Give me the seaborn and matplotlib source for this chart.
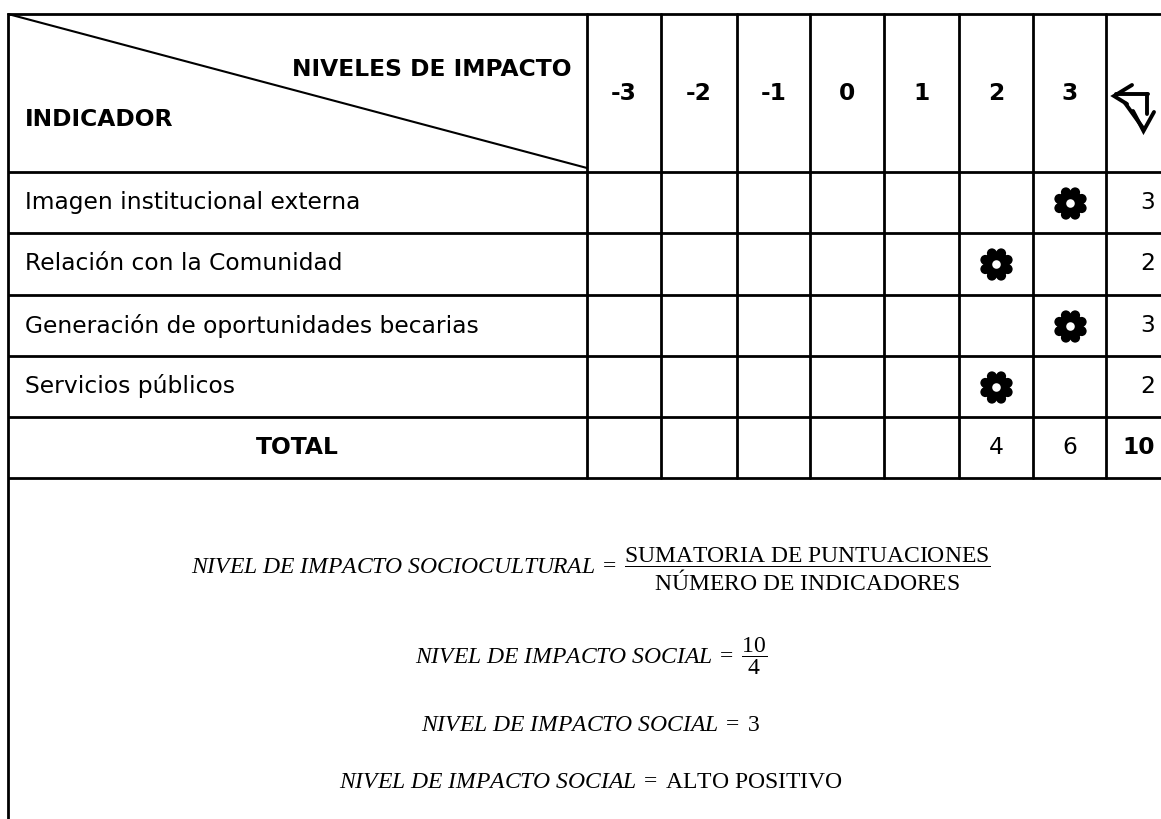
import numpy as np
import pandas as pd
import matplotlib
matplotlib.use("Agg")
import matplotlib.pyplot as plt
from matplotlib.path import Path
import seaborn as sns

# datos de la tabla
levels = [-3, -2, -1, 0, 1, 2, 3]
indicators = ['Imagen institucional externa', 'Relación con la Comunidad',
              'Generación de oportunidades becarias', 'Servicios públicos']
scores = [3, 2, 3, 2]
n_indicators = 4
impact_value = 3
impact_label = 'ALTO POSITIVO'

sns.set_theme(style="white")
plt.rcParams['font.family'] = ['DejaVu Sans']
plt.rcParams['text.color'] = 'black'
plt.rcParams['mathtext.fontset'] = 'custom'
plt.rcParams['mathtext.rm'] = 'Liberation Serif'
plt.rcParams['mathtext.it'] = 'Liberation Serif:italic'

fig = plt.figure(figsize=(11.61, 8.19), dpi=100)
ax = fig.add_axes([0, 0, 1, 1])

col_edges = [8, 587, 661, 737, 810, 884, 959, 1033, 1106, 1185]
row_edges = [14, 172, 233, 295, 356, 417, 478]
col_mid = [(a + b) / 2 for a, b in zip(col_edges[1:-2], col_edges[2:-1])]
row_mid = [(a + b) / 2 for a, b in zip(row_edges[1:-1], row_edges[2:])]
lw = 2
fs = 16.8

# marcador de flor: 8 petalos redondos + centro
petals = [Path.circle((0.7 * np.cos(a), 0.7 * np.sin(a)), 0.29)
          for a in np.linspace(0, 2 * np.pi, 8, endpoint=False) + np.pi / 8]
flower = Path.make_compound_path(Path.circle((0, 0), 0.58), *petals)

df = pd.DataFrame({'x': [col_mid[levels.index(s)] for s in scores],
                   'y': row_mid[:len(scores)]})
sns.scatterplot(data=df, x='x', y='y', marker=flower, s=540, color='black',
                edgecolor='black', linewidth=0, ax=ax, zorder=3)
sns.scatterplot(data=df, x='x', y='y', marker='o', s=38, color='white',
                edgecolor='white', linewidth=0, ax=ax, zorder=4)
ax.set_xlim(0, 1161)
ax.set_ylim(819, 0)
ax.axis('off')

# lineas de la tabla
for y in row_edges:
    ax.plot([col_edges[0], col_edges[-1]], [y, y], color='black', lw=lw, solid_capstyle='butt')
ax.plot([col_edges[0]] * 2, [row_edges[0], 830], color='black', lw=lw)
for x in col_edges[1:]:
    ax.plot([x, x], [row_edges[0], row_edges[-1]], color='black', lw=lw)
ax.plot([col_edges[0], col_edges[1]], [row_edges[0], row_edges[1] - 4], color='black', lw=1.5)

# encabezado
ax.text(572, 70, 'NIVELES DE IMPACTO', ha='right', va='center', fontsize=fs, fontweight='bold')
ax.text(25, 120, 'INDICADOR', ha='left', va='center', fontsize=fs, fontweight='bold')
for lv, xm in zip(levels, col_mid):
    ax.text(xm, 93, str(lv), ha='center', va='center', fontsize=fs, fontweight='bold')

# simbolo de flecha en la ultima columna
sym = dict(color='black', lw=2.8, solid_capstyle='round', solid_joinstyle='miter')
ax.plot([1132, 1114, 1127], [85, 96, 104], **sym)
ax.plot([1116, 1148], [94, 94], **sym)
ax.plot([1147, 1147], [94, 114], **sym)
ax.plot([1133, 1143.5, 1154], [111, 131, 112], **sym)
ax.plot([1125, 1143], [103, 128], **sym)

# filas
for name, sc, ym in zip(indicators, scores, row_mid):
    ax.text(25, ym, name, ha='left', va='center', fontsize=fs)
    ax.text(1155, ym, str(sc), ha='right', va='center', fontsize=fs)

# fila total
total_y = (row_edges[-2] + row_edges[-1]) / 2
ax.text((col_edges[0] + col_edges[1]) / 2, total_y, 'TOTAL', ha='center', va='center',
        fontsize=fs, fontweight='bold')
for lv, xm in zip(levels, col_mid):
    t = sum(s for s in scores if s == lv)
    if t:
        ax.text(xm, total_y, str(t), ha='center', va='center', fontsize=fs)
total = sum(scores)
ax.text(1155, total_y, str(total), ha='right', va='center', fontsize=fs, fontweight='bold')

# formulas
ffs = 17
cx = 591
eq = r'\;=\;'
ax.text(cx, 569, r'$NIVEL\ DE\ IMPACTO\ SOCIOCULTURAL' + eq +
        r'\dfrac{\mathrm{SUMATORIA\ DE\ PUNTUACIONES}}{\mathrm{NÚMERO\ DE\ INDICADORES}}$',
        ha='center', va='center', fontsize=ffs)
ax.text(cx, 656, r'$NIVEL\ DE\ IMPACTO\ SOCIAL' + eq + r'\dfrac{%d}{%d}$' % (total, n_indicators),
        ha='center', va='center', fontsize=ffs)
ax.text(cx, 724, r'$NIVEL\ DE\ IMPACTO\ SOCIAL' + eq + r'%d$' % impact_value,
        ha='center', va='center', fontsize=ffs)
ax.text(cx, 781, r'$NIVEL\ DE\ IMPACTO\ SOCIAL' + eq + r'\mathrm{%s}$' % impact_label.replace(' ', r'\ '),
        ha='center', va='center', fontsize=ffs)

fig.savefig('out.png', dpi=100, facecolor='white')
